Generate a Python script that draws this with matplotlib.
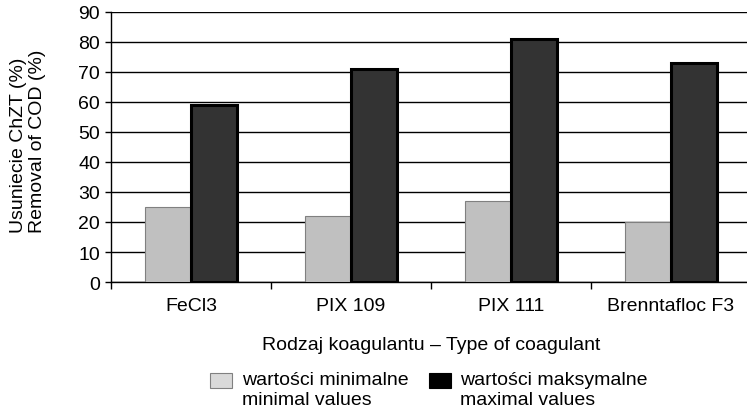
import matplotlib
matplotlib.use("Agg")
import matplotlib.pyplot as plt
import numpy as np
from matplotlib.patches import Rectangle

plt.rcParams['font.family'] = ['Liberation Sans', 'DejaVu Sans']

categories = ['FeCl3', 'PIX 109', 'PIX 111', 'Brenntafloc F3']
min_values = [25, 22, 27, 20]
max_values = [59, 71, 81, 73]
legend_labels = ['wartości minimalne\nminimal values', 'wartości maksymalne\nmaximal values']

W, H = 747, 414
FS = 14

fig = plt.figure(figsize=(W / 100, H / 100), dpi=100)
# axes deliberately runs a little past the right edge, as in the original
ax = fig.add_axes([111 / W, 1 - 283 / H, 640 / W, 270 / H])

x = np.arange(len(categories))
w = 0.29
ax.bar(x - w / 2, min_values, w, color='#c0c0c0', edgecolor='#808080',
       linewidth=0.8, zorder=3)
ax.bar(x + w / 2, max_values, w, color='#333333', edgecolor='black',
       linewidth=2.2, zorder=3)

ax.set_xlim(-0.5, len(categories) - 0.5)
ax.set_ylim(0, 90)
ax.set_yticks(range(0, 91, 10))
ax.yaxis.grid(True, color='black', linewidth=1.0, zorder=0)
ax.set_axisbelow(True)

ax.set_xticks(x)
ax.set_xticklabels(categories, fontsize=FS)
ax.set_xticks(np.arange(len(categories)) - 0.5, minor=True)
ax.tick_params(axis='x', which='major', length=0, pad=11)
ax.tick_params(axis='x', which='minor', length=5, width=1, color='black')
ax.tick_params(axis='y', length=4, width=1, labelsize=FS, pad=4)

for s in ['top', 'right']:
    ax.spines[s].set_visible(False)
ax.spines['left'].set_linewidth(1.0)
ax.spines['bottom'].set_linewidth(1.0)

fig.text(28 / W, 1 - 141 / H, 'Usuniecie ChZT (%)\nRemoval of COD (%)',
         rotation=90, ha='center', va='center', multialignment='left',
         fontsize=FS, linespacing=1.2)
fig.text(431 / W, 1 - 345 / H, 'Rodzaj koagulantu \u2013 Type of coagulant',
         ha='center', va='center', fontsize=FS)

# legend: key square sits next to the first line of each two-line label
keys = [('#d9d9d9', '#808080', 210, 242), ('black', 'black', 429, 460)]
for (fc, ec, kx, tx), lab in zip(keys, legend_labels):
    fig.patches.append(Rectangle((kx / W, 1 - 389 / H), 22 / W, 15 / H,
                                 facecolor=fc, edgecolor=ec, linewidth=0.8,
                                 transform=fig.transFigure, figure=fig))
    fig.text(tx / W, 1 - 372 / H, lab, ha='left', va='top', fontsize=FS,
             linespacing=1.25)

fig.savefig('out.png', dpi=100)
